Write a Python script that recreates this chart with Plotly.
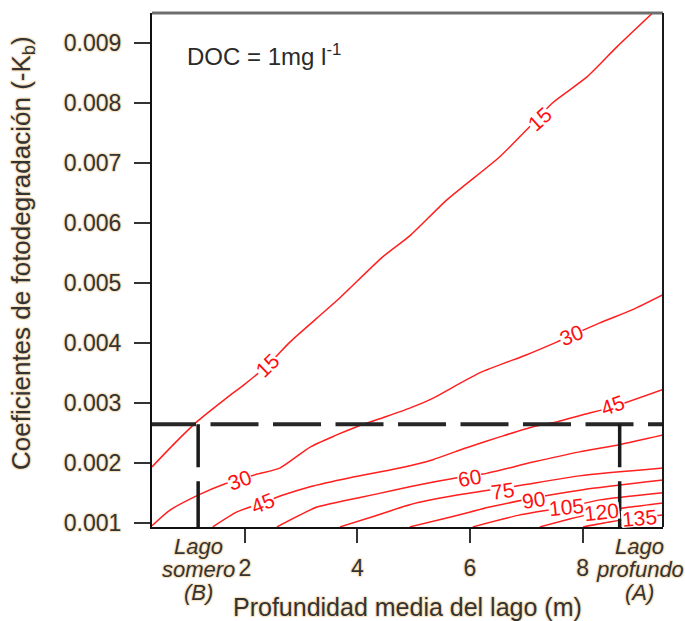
import plotly.graph_objects as go

# ---- contour lines: mean lake depth (m) vs photodegradation coefficient ----
depth_15 = [0.35, 0.76, 1.17, 1.65, 2.00, 2.41, 2.80, 3.28, 3.69, 4.45, 4.93, 5.59, 6.53, 7.06, 7.47, 8.08, 8.61, 9.25]
kd_15 = [0.00193, 0.00233, 0.00270, 0.00306, 0.00331, 0.00363, 0.00401, 0.00441, 0.00475, 0.00543, 0.00578,
         0.00638, 0.00710, 0.00760, 0.00800, 0.00843, 0.00893, 0.00950]

depth_30 = [0.35, 0.67, 1.17, 1.65, 2.22, 2.62, 3.16, 3.60, 3.99, 4.45, 4.93, 5.29, 6.18, 7.01, 7.54, 8.31, 8.89, 9.43]
kd_30 = [0.00095, 0.00121, 0.00146, 0.00165, 0.00181, 0.00191, 0.00226, 0.00245, 0.00260, 0.00275, 0.00291,
         0.00305, 0.00350, 0.00380, 0.00401, 0.00433, 0.00455, 0.00480]

depth_45 = [1.43, 1.86, 2.32, 2.68, 3.16, 3.87, 4.75, 5.34, 5.94, 6.53, 7.12, 7.54, 8.01, 8.54, 9.43]
kd_45 = [0.00093, 0.00118, 0.00133, 0.00146, 0.00160, 0.00175, 0.00191, 0.00205, 0.00225, 0.00243, 0.00260,
         0.00268, 0.00280, 0.00293, 0.00322]

depth_60 = [2.57, 3.28, 3.74, 4.35, 4.93, 5.77, 6.23, 7.12, 7.95, 8.66, 9.43]
kd_60 = [0.00093, 0.00126, 0.00136, 0.00148, 0.00160, 0.00175, 0.00181, 0.00201, 0.00218, 0.00230, 0.00246]

depth_75 = [3.69, 4.31, 4.93, 5.77, 6.83, 7.95, 9.43]
kd_75 = [0.00093, 0.00111, 0.00130, 0.00146, 0.00161, 0.00178, 0.00191]

depth_90 = [4.93, 5.64, 6.35, 7.42, 8.01, 9.43]
kd_90 = [0.00093, 0.00109, 0.00126, 0.00146, 0.00155, 0.00171]

depth_105 = [6.05, 6.89, 7.72, 8.31, 9.43]
kd_105 = [0.00093, 0.00113, 0.00126, 0.00138, 0.00150]

depth_120 = [7.24, 7.77, 8.31, 8.84, 9.43]
kd_120 = [0.00093, 0.00106, 0.00118, 0.00126, 0.00133]

depth_135 = [8.01, 8.48, 8.96, 9.43]
kd_135 = [0.00093, 0.00101, 0.00108, 0.00113]

# ---- contour labels ----
label_text = ["15", "15", "30", "30", "45", "45", "60", "75", "90", "105", "120", "135"]
label_depth = [2.41, 7.24, 1.91, 7.81, 2.32, 8.54, 5.99, 6.57, 7.12, 7.72, 8.34, 9.02]
label_kd = [0.00362, 0.00773, 0.00171, 0.00412, 0.00133, 0.00296, 0.00175, 0.00153, 0.00138, 0.00126, 0.00118, 0.00108]
label_angle = [-44, -42, -20, -22, -22, -20, -10, -8, -8, -6, -6, -5]

# ---- reference lakes ----
ref_depth = [1.17, 8.66]          # shallow (B), deep (A)
ref_kd = 0.00264
ref_names = [["Lago", "somero", "(B)"], ["Lago", "profundo", "(A)"]]

x_ticks = [2, 4, 6, 8]
y_ticks = [0.001, 0.002, 0.003, 0.004, 0.005, 0.006, 0.007, 0.008, 0.009]
x_range = [0.35, 9.43]
y_range = [0.000928, 0.009495]

FONT = "Liberation Sans, Arial, Helvetica, sans-serif"
TXT = "#333333"
HALO = "1px 1px 1px #f7e2c0, -1px -1px 1px #f7e2c0, 1px -1px 1px #f7e2c0, -1px 1px 1px #f7e2c0"
RED = "#ff1f1f"

contours = [(depth_15, kd_15), (depth_30, kd_30), (depth_45, kd_45), (depth_60, kd_60), (depth_75, kd_75),
            (depth_90, kd_90), (depth_105, kd_105), (depth_120, kd_120), (depth_135, kd_135)]

fig = go.Figure()
for xs, ys in contours:
    fig.add_trace(go.Scatter(x=xs, y=ys, mode="lines", line=dict(color=RED, width=1.5, shape="spline", smoothing=0.6),
                             hoverinfo="skip", showlegend=False))

annotations = []
for t, xv, yv, ang in zip(label_text, label_depth, label_kd, label_angle):
    annotations.append(dict(x=xv, y=yv, xref="x", yref="y", text=t, showarrow=False, textangle=ang,
                            font=dict(family=FONT, size=21, color="#ff1010"), bgcolor="white", borderpad=0,
                            height=16))

# DOC text
annotations.append(dict(x=(185 - 152) / 511, y=(527 - 55) / 514, xref="paper", yref="paper",
                        text="DOC = 1mg l<sup>-1</sup>", showarrow=False, xanchor="left", yanchor="middle",
                        font=dict(family=FONT, size=24, color="#2a2a2a")))

# lake labels under the axis
shifts = [0, 20]
for (names, xd, xs) in zip(ref_names, ref_depth, shifts):
    for i, nm in enumerate(names):
        annotations.append(dict(x=xd, y=0, xref="x", yref="paper", text=nm, showarrow=False,
                                xanchor="center", yanchor="middle", xshift=xs, yshift=-19 - 23 * i,
                                font=dict(family=FONT, size=22, color=TXT, style="italic", shadow=HALO)))

# axis titles
annotations.append(dict(x=0.5, y=0, xref="paper", yref="paper", text="Profundidad media del lago (m)",
                        showarrow=False, xanchor="center", yanchor="middle", yshift=-80,
                        font=dict(family=FONT, size=25, color=TXT, shadow=HALO)))
annotations.append(dict(x=0, y=(527 - 253) / 514, xref="paper", yref="paper",
                        text="Coeficientes de fotodegradación (-K<sub>b</sub>)", textangle=-90,
                        showarrow=False, xanchor="center", yanchor="middle", xshift=-130,
                        font=dict(family=FONT, size=26, color=TXT, shadow=HALO)))

shapes = []
# horizontal reference line
shapes.append(dict(type="line", xref="x", yref="y", x0=x_range[0] - 4 / 56.3, x1=x_range[1], y0=ref_kd, y1=ref_kd,
                   line=dict(color="#262626", width=4, dash="48px,14.5px"), layer="above"))
for xd in ref_depth:
    shapes.append(dict(type="line", xref="x", yref="y", x0=xd, x1=xd, y0=ref_kd, y1=y_range[0],
                       line=dict(color="#1a1a1a", width=3.5, dash="43px,14px,120px"), layer="above"))
# frame: top gray, right black
shapes.append(dict(type="line", xref="paper", yref="paper", x0=0, x1=1, y0=1, y1=1,
                   line=dict(color="#6e6e6e", width=3), layer="above"))
shapes.append(dict(type="line", xref="paper", yref="paper", x0=1, x1=1, y0=0, y1=1,
                   line=dict(color="#1a1a1a", width=2), layer="above"))

fig.update_layout(
    width=685, height=621,
    margin=dict(l=152, r=22, t=13, b=94),
    paper_bgcolor="white", plot_bgcolor="white",
    showlegend=False,
    annotations=annotations,
    shapes=shapes,
    font=dict(family=FONT, color=TXT),
)
fig.update_xaxes(range=x_range, tickvals=x_ticks, ticks="outside", ticklen=14, tickwidth=2, tickcolor="#333",
                 showline=True, linecolor="#111", linewidth=2, showgrid=False, zeroline=False, automargin=False,
                 ticklabelstandoff=5, tickfont=dict(family=FONT, size=23, color=TXT, shadow=HALO))
fig.update_yaxes(range=y_range, tickvals=y_ticks, tickformat=".3f", ticks="outside", ticklen=16, tickwidth=2,
                 tickcolor="#333", showline=True, linecolor="#111", linewidth=2, showgrid=False, zeroline=False,
                 automargin=False,
                 ticklabelstandoff=8, tickfont=dict(family=FONT, size=23, color=TXT, shadow=HALO))

fig.write_html("out.html", config={"displayModeBar": False},
               post_script="document.body.style.margin='0px';document.body.style.overflow='hidden';")
